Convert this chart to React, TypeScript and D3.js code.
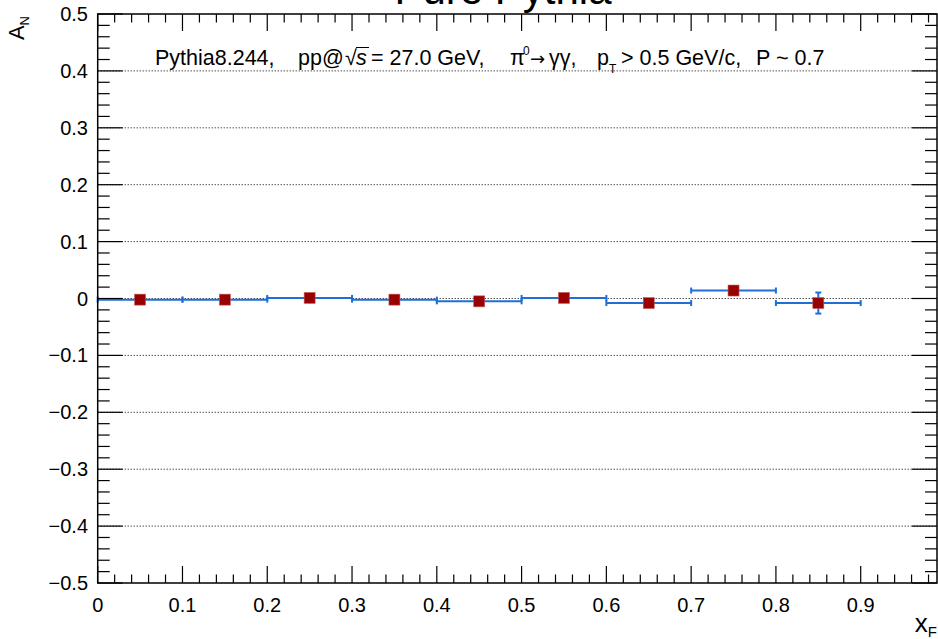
import * as d3 from "d3";

const svg_width = 938;
const svg_height = 639;
const frame = { left: 97.7, right: 937, top: 14, bottom: 583 };

const [x_min, x_max] = [0, 0.99];
const [y_min, y_max] = [-0.5, 0.5];

// one entry per xF bin
const bin_centers = [0.05, 0.15, 0.25, 0.35, 0.45, 0.55, 0.65, 0.75, 0.85];
const bin_half_widths = [0.05, 0.05, 0.05, 0.05, 0.05, 0.05, 0.05, 0.05, 0.05];
const an_values = [-0.002, -0.002, 0.001, -0.002, -0.005, 0.001, -0.008, 0.014, -0.008];
const an_errors = [0.004, 0.004, 0.004, 0.004, 0.004, 0.004, 0.005, 0.006, 0.0185];

const x_major_ticks = [0, 0.1, 0.2, 0.3, 0.4, 0.5, 0.6, 0.7, 0.8, 0.9];
const x_tick_labels = ["0", "0.1", "0.2", "0.3", "0.4", "0.5", "0.6", "0.7", "0.8", "0.9"];
const y_major_ticks = [-0.5, -0.4, -0.3, -0.2, -0.1, 0, 0.1, 0.2, 0.3, 0.4, 0.5];
const y_tick_labels = ["\u22120.5", "\u22120.4", "\u22120.3", "\u22120.2", "\u22120.1", "0", "0.1", "0.2", "0.3", "0.4", "0.5"];
const grid_values = [-0.4, -0.3, -0.2, -0.1, 0, 0.1, 0.2, 0.3, 0.4];

const font = "'Liberation Sans', Arial, Helvetica, sans-serif";
const marker_color = "#990000";
const error_color = "#1f6fd6";

export default function App() {
    const x = d3.scaleLinear().domain([x_min, x_max]).range([frame.left, frame.right]);
    const y = d3.scaleLinear().domain([y_min, y_max]).range([frame.bottom, frame.top]);

    const x_minor = d3.range(0, 50).map(i => i * 0.02).filter(v => v <= x_max + 1e-9);
    const y_minor = d3.range(0, 51).map(i => -0.5 + i * 0.02);

    const marker = 11;
    const cap = 3;

    return (
        <svg width={svg_width} height={svg_height}
            style={{ position: "absolute", left: 0, top: 0, background: "white", fontFamily: font }}>
            {/* title, cut off by the top of the canvas */}
            <text x={503} y={3.5} textAnchor="middle" fontSize={42} fill="black">Pure Pythia</text>

            {/* grid */}
            {grid_values.map(v => (
                <line key={"g" + v} x1={frame.left} x2={frame.right} y1={y(v)} y2={y(v)}
                    stroke="black" strokeWidth={1} strokeDasharray="1,2" />
            ))}

            {/* annotation */}
            <g fontSize={21.5} fill="black">
                <text x={155} y={65}>Pythia8.244,</text>
                <text x={298} y={65}>pp@</text>
                <text x={345} y={65}>{"\u221A"}</text>
                <line x1={356} x2={369} y1={47.5} y2={47.5} stroke="black" strokeWidth={1} />
                <text x={356} y={65} fontStyle="italic">s</text>
                <text x={371} y={65}>= 27.0 GeV,</text>
                <text x={510} y={65}>{"\u03C0"}</text>
                <text x={523} y={55} fontSize={12}>0</text>
                <text x={530} y={65} fontFamily="'DejaVu Sans', sans-serif" fontSize={18}>{"\u2192"}</text>
                <text x={549} y={65}>{"\u03B3\u03B3,"}</text>
                <text x={597} y={65}>p</text>
                <text x={609} y={73} fontSize={12}>T</text>
                <text x={621} y={65}>{"> 0.5 GeV/c,"}</text>
                <text x={756} y={65}>{"P ~ 0.7"}</text>
            </g>

            {/* error bars */}
            {bin_centers.map((c, i) => {
                const yv = y(an_values[i]);
                const x0 = x(c - bin_half_widths[i]);
                const x1 = x(c + bin_half_widths[i]);
                const ya = y(an_values[i] + an_errors[i]);
                const yb = y(an_values[i] - an_errors[i]);
                return (
                    <g key={"e" + i} stroke={error_color} strokeWidth={2}>
                        <line x1={x0} x2={x1} y1={yv} y2={yv} />
                        <line x1={x0} x2={x0} y1={yv - cap} y2={yv + cap} />
                        <line x1={x1} x2={x1} y1={yv - cap} y2={yv + cap} />
                        <line x1={x(c)} x2={x(c)} y1={ya} y2={yb} />
                        <line x1={x(c) - cap} x2={x(c) + cap} y1={ya} y2={ya} />
                        <line x1={x(c) - cap} x2={x(c) + cap} y1={yb} y2={yb} />
                    </g>
                );
            })}

            {/* markers */}
            {bin_centers.map((c, i) => (
                <rect key={"m" + i} x={x(c) - marker / 2} y={y(an_values[i]) - marker / 2}
                    width={marker} height={marker} fill={marker_color}
                    stroke="#c06060" strokeWidth={0.6} />
            ))}

            {/* frame */}
            <rect x={frame.left} y={frame.top} width={frame.right - frame.left} height={frame.bottom - frame.top}
                fill="none" stroke="black" strokeWidth={1.5} />

            {/* x ticks, bottom and top */}
            {x_minor.map(v => {
                const major = x_major_ticks.some(t => Math.abs(t - v) < 1e-9);
                const len = major ? 17 : 8.5;
                return (
                    <g key={"xt" + v} stroke="black" strokeWidth={1.2}>
                        <line x1={x(v)} x2={x(v)} y1={frame.bottom} y2={frame.bottom - len} />
                        <line x1={x(v)} x2={x(v)} y1={frame.top} y2={frame.top + len} />
                    </g>
                );
            })}

            {/* y ticks, left and right */}
            {y_minor.map(v => {
                const major = y_major_ticks.some(t => Math.abs(t - v) < 1e-9);
                const len = major ? 25 : 12;
                return (
                    <g key={"yt" + v} stroke="black" strokeWidth={1.2}>
                        <line x1={frame.left} x2={frame.left + len} y1={y(v)} y2={y(v)} />
                        <line x1={frame.right} x2={frame.right - len} y1={y(v)} y2={y(v)} />
                    </g>
                );
            })}

            {/* tick labels */}
            <g fontSize={20} fill="black">
                {x_major_ticks.map((v, i) => (
                    <text key={"xl" + v} x={x(v)} y={612} textAnchor="middle">{x_tick_labels[i]}</text>
                ))}
                {y_major_ticks.map((v, i) => (
                    <text key={"yl" + v} x={88} y={y(v) + 7} textAnchor="end">{y_tick_labels[i]}</text>
                ))}
            </g>

            {/* axis titles */}
            <text transform={`translate(24, 16) rotate(-90)`} textAnchor="end" fontSize={22} fill="black">
                A<tspan fontSize={13} dy={5}>N</tspan>
            </text>
            <text x={937} y={632} textAnchor="end" fontSize={26} fill="black">
                x<tspan fontSize={15} dy={5}>F</tspan>
            </text>
        </svg>
    );
}
